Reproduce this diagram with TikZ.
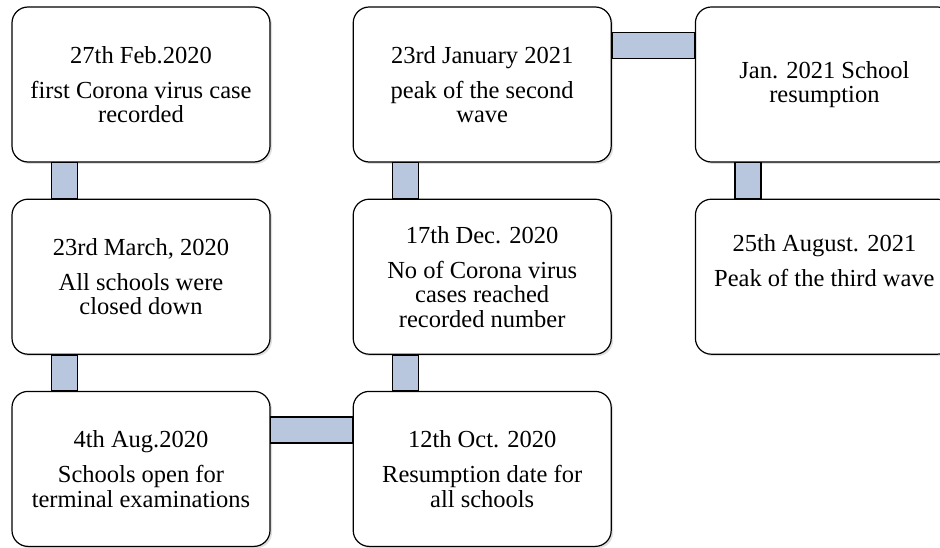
\documentclass[tikz,border=0pt]{standalone}
\usepackage{fontspec}
\setmainfont{Liberation Serif}
\usetikzlibrary{positioning,shadows}
\definecolor{barblue}{HTML}{B8C6DE}

\begin{document}
\begin{tikzpicture}[
  node distance=36pt and 82pt,
  event/.style={draw,line width=1.2pt,rounded corners=16pt,fill=white,
                minimum width=258pt,minimum height=155pt,align=center,
                font=\fontsize{24.5}{24.5}\selectfont,
                drop shadow={shadow xshift=2pt,shadow yshift=-2pt,opacity=0.25}},
  bar/.style={draw,line width=1.4pt,fill=barblue}
]
\useasboundingbox (0,0) rectangle (940pt,-548pt);
\node[event] (feb) at (141pt,-84.5pt) {27th Feb.2020\\[10.5pt] first Corona virus case\\ recorded};
\node[event,below=of feb] (march) {23rd March, 2020\\[10.5pt] All schools were\\ closed down};
\node[event,below=of march] (aug) {4th Aug.2020\\[10.5pt] Schools open for\\ terminal examinations};
\node[event,right=of aug] (oct) {12th Oct. 2020\\[10.5pt] Resumption date for\\ all schools};
\node[event,above=of oct] (dec) {17th Dec. 2020\\[10.5pt] No of Corona virus\\ cases reached\\ recorded number};
\node[event,above=of dec] (jan) {23rd January 2021\\[10.5pt] peak of the second\\ wave};
\node[event,right=83pt of jan] (school) {Jan. 2021 School\\ resumption};
\node[event,below=of school] (third) {25th August. 2021\\[10.5pt] Peak of the third wave\\ \strut};
% connecting bars
\draw[bar] ([xshift=40pt]feb.south west) rectangle ([xshift=66pt]march.north west);
\draw[bar] ([xshift=40pt]march.south west) rectangle ([xshift=66pt]aug.north west);
\draw[bar] ([yshift=-26pt]aug.north east) rectangle ([yshift=-52pt]oct.north west);
\draw[bar] ([xshift=40pt]dec.south west) rectangle ([xshift=66pt]oct.north west);
\draw[bar] ([xshift=40pt]jan.south west) rectangle ([xshift=66pt]dec.north west);
\draw[bar] ([yshift=-26pt]jan.north east) rectangle ([yshift=-52pt]school.north west);
\draw[bar] ([xshift=40pt]school.south west) rectangle ([xshift=66pt]third.north west);
\end{tikzpicture}
\end{document}
